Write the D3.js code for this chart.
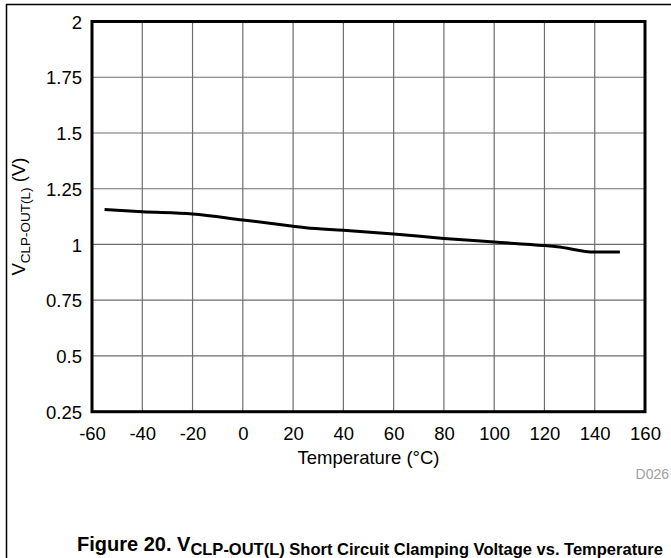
<!DOCTYPE html>
<html><head><meta charset="utf-8">
<script src="https://cdn.jsdelivr.net/npm/d3@7"></script>
<style>body{margin:0;background:#fff}svg{display:block;font-family:Arial,"Liberation Sans",sans-serif}</style>
</head><body><svg id="c" width="671" height="558"></svg>
<script>
const temps = [-55, -40, -20, 0, 20, 25, 40, 60, 80, 100, 120, 125, 140, 150];
const volts = [1.157, 1.147, 1.137, 1.11, 1.082, 1.075, 1.064, 1.047, 1.027, 1.011, 0.995, 0.99, 0.966, 0.966];
const xTicks = [-60, -40, -20, 0, 20, 40, 60, 80, 100, 120, 140, 160];
const yTicks = [0.25, 0.5, 0.75, 1, 1.25, 1.5, 1.75, 2];
const yTickLabels = ["0.25", "0.5", "0.75", "1", "1.25", "1.5", "1.75", "2"];

const svg = d3.select("#c");
const L = 92, R = 645, T = 21.5, B = 411.7;
const x = d3.scaleLinear().domain([-60, 160]).range([L, R]);
const y = d3.scaleLinear().domain([0.25, 2]).range([B, T]);

// outer frame
svg.append("line").attr("x1", 6).attr("x2", 671).attr("y1", 4.5).attr("y2", 4.5).attr("stroke", "#000").attr("stroke-width", 1.5);
svg.append("line").attr("x1", 6.5).attr("x2", 6.5).attr("y1", 4).attr("y2", 558).attr("stroke", "#000").attr("stroke-width", 1.5);

// grid
const g = svg.append("g");
g.selectAll(".vx").data(xTicks.slice(1, -1)).enter().append("line")
  .attr("x1", d => x(d)).attr("x2", d => x(d)).attr("y1", T).attr("y2", B)
  .attr("stroke", "#6e6e6e").attr("stroke-width", 1.2);
g.selectAll(".hy").data(yTicks.slice(1, -1)).enter().append("line")
  .attr("y1", d => y(d)).attr("y2", d => y(d)).attr("x1", L).attr("x2", R)
  .attr("stroke", "#6e6e6e").attr("stroke-width", 1.2);

// plot frame
svg.append("rect").attr("x", L).attr("y", T).attr("width", R - L).attr("height", B - T)
  .attr("fill", "none").attr("stroke", "#000").attr("stroke-width", 3);

// axes labels via d3 axes
const xAxis = d3.axisBottom(x).tickValues(xTicks).tickFormat(d => String(d)).tickSize(0).tickPadding(0);
const xa = svg.append("g").attr("transform", `translate(0,${B})`).call(xAxis);
xa.select(".domain").remove();
xa.selectAll("text").attr("dy", null).attr("y", 28).attr("font-size", 18.5).attr("fill", "#000").attr("font-family", "Arial, 'Liberation Sans', sans-serif");

const yAxis = d3.axisLeft(y).tickValues(yTicks).tickFormat((d, i) => yTickLabels[i]).tickSize(0).tickPadding(0);
const ya = svg.append("g").attr("transform", `translate(${L - 10},0)`).call(yAxis);
ya.select(".domain").remove();
ya.selectAll("text").attr("dy", "0.36em").attr("x", 0).attr("font-size", 18.5).attr("fill", "#000").attr("font-family", "Arial, 'Liberation Sans', sans-serif");

// data line
const line = d3.line().x((d, i) => x(temps[i])).y(d => y(d)).curve(d3.curveMonotoneX);
svg.append("path").datum(volts).attr("d", line).attr("fill", "none").attr("stroke", "#000").attr("stroke-width", 3).attr("stroke-linejoin", "round");

// x axis title
svg.append("text").attr("x", x(50)).attr("y", 464).attr("text-anchor", "middle").attr("font-size", 18.5).text("Temperature (°C)");

// y axis title
const yt = svg.append("text").attr("transform", `translate(25,${(T + B) / 2}) rotate(-90)`).attr("text-anchor", "middle").attr("font-size", 18.5);
yt.append("tspan").text("V");
yt.append("tspan").attr("font-size", 13.5).attr("dy", 5).text("CLP-OUT(L)");
yt.append("tspan").attr("dy", -5).text(" (V)");

// D026
svg.append("text").attr("x", 669).attr("y", 479).attr("text-anchor", "end").attr("font-size", 14).attr("fill", "#a0a0a0").text("D026");

// figure title
const ft = svg.append("text").attr("x", 77).attr("y", 551).attr("font-weight", "bold").attr("font-size", 20);
ft.append("tspan").text("Figure 20. V");
ft.append("tspan").attr("font-size", 16.5).attr("dy", 4).text("CLP-OUT(L) Short Circuit Clamping Voltage vs. Temperature");
</script></body></html>
